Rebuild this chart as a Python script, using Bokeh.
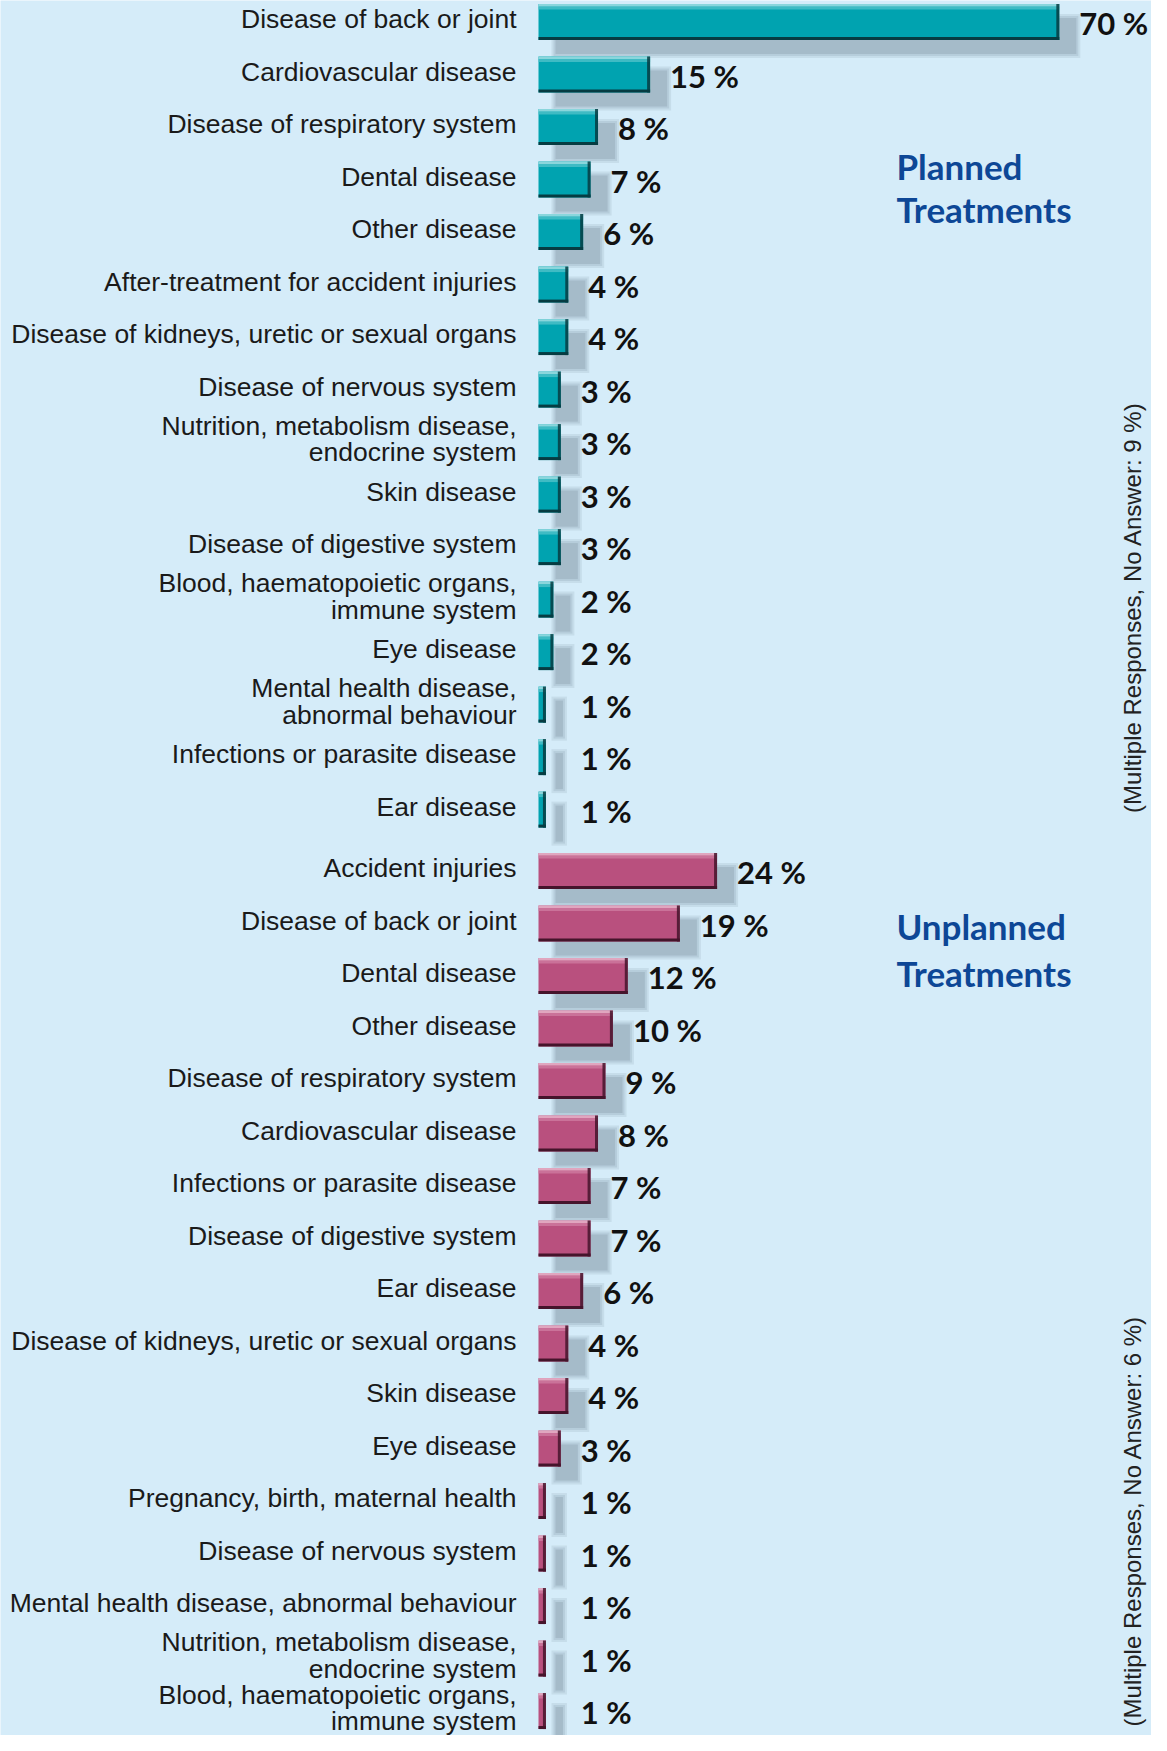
import numpy as np
from bokeh.plotting import figure
from bokeh.models import ColumnDataSource, Range1d, Label
from bokeh.embed import file_html
from bokeh.resources import INLINE
from bokeh.core.properties import value

# ---------------- data ----------------
planned_labels = [
    "Disease of back or joint",
    "Cardiovascular disease",
    "Disease of respiratory system",
    "Dental disease",
    "Other disease",
    "After-treatment for accident injuries",
    "Disease of kidneys, uretic or sexual organs",
    "Disease of nervous system",
    "Nutrition, metabolism disease,\nendocrine system",
    "Skin disease",
    "Disease of digestive system",
    "Blood, haematopoietic organs,\nimmune system",
    "Eye disease",
    "Mental health disease,\nabnormal behaviour",
    "Infections or parasite disease",
    "Ear disease",
]
planned_values = [70, 15, 8, 7, 6, 4, 4, 3, 3, 3, 3, 2, 2, 1, 1, 1]

unplanned_labels = [
    "Accident injuries",
    "Disease of back or joint",
    "Dental disease",
    "Other disease",
    "Disease of respiratory system",
    "Cardiovascular disease",
    "Infections or parasite disease",
    "Disease of digestive system",
    "Ear disease",
    "Disease of kidneys, uretic or sexual organs",
    "Skin disease",
    "Eye disease",
    "Pregnancy, birth, maternal health",
    "Disease of nervous system",
    "Mental health disease, abnormal behaviour",
    "Nutrition, metabolism disease,\nendocrine system",
    "Blood, haematopoietic organs,\nimmune system",
]
unplanned_values = [24, 19, 12, 10, 9, 8, 7, 7, 6, 4, 4, 3, 1, 1, 1, 1, 1]

section_titles = [["Planned", "Treatments"], ["Unplanned", "Treatments"]]
section_notes = ["(Multiple Responses, No Answer: 9 %)",
                 "(Multiple Responses, No Answer: 6 %)"]

# ---------------- style ----------------
BG = "#D5ECF9"
TEAL = dict(main="#00A3B0", light="#4FC0C9", lighter="#8AD6DC", dark="#063C42")
PINK = dict(main="#B9507E", light="#CE7BA0", lighter="#E0A6BF", dark="#45142B")
SHADOW = "#93AAB8"
TITLE_BLUE = "#0D4796"

W, H = 1151, 1735
X0, X1 = -72.31, 82.39
Y0, Y1 = -0.411, 32.636
PXX = W / (X1 - X0)
PXY = H / (Y1 - Y0)
BAR_H = 36 / PXY
UNPLANNED_START = 16.17

p = figure(width=W, height=H, x_range=Range1d(X0, X1), y_range=Range1d(Y1, Y0),
           output_backend="svg", toolbar_location=None, min_border=0,
           x_axis_location=None, y_axis_location=None)
p.grid.visible = False
p.outline_line_color = None
p.background_fill_color = BG
p.border_fill_color = BG

sections = [
    (planned_labels, planned_values, 0.0, TEAL),
    (unplanned_labels, unplanned_values, UNPLANNED_START, PINK),
]

dx = 17 / PXX
dy = 14 / PXY

for labels, vals, start, col in sections:
    v = np.array(vals, dtype=float)
    y = start + np.arange(len(v))
    src = ColumnDataSource(dict(
        y=y, v=v, lab=labels, txt=[f"{int(a)} %" for a in v],
        tx=np.maximum(v, 3.0),
    ))
    # soft shadow
    for grow, alpha in [(4, 0.22), (2, 0.3), (0, 0.5)]:
        gx = grow / PXX
        gy = grow / PXY
        p.hbar(y=y + dy, left=dx - gx, right=v + dx + gx, height=BAR_H + 2 * gy,
               fill_color=SHADOW, fill_alpha=alpha, line_color=None)
    # bar body
    p.hbar(y="y", left=0, right="v", height=BAR_H, source=src,
           fill_color=col["main"], line_color=None)
    # top highlights
    t1 = 2.5 / PXY
    t2 = 3.0 / PXY
    p.hbar(y=y - BAR_H / 2 + t1 + t2 / 2, left=0, right=v, height=t2,
           fill_color=col["light"], line_color=None, fill_alpha=0.8)
    p.hbar(y=y - BAR_H / 2 + t1 / 2, left=0, right=v, height=t1,
           fill_color=col["lighter"], line_color=None)
    # dark right edge and bottom edge
    rw = 3.0 / PXX
    p.hbar(y=y, left=np.maximum(v - rw, 0), right=v, height=BAR_H,
           fill_color=col["dark"], line_color=None, fill_alpha=0.85)
    b = 3.0 / PXY
    p.hbar(y=y + BAR_H / 2 - b / 2, left=0, right=v, height=b,
           fill_color=col["dark"], line_color=None)
    # category labels
    p.text(x=0, y="y", text="lab", source=src, x_offset=-22, y_offset=-3,
           text_align="right", text_baseline="middle",
           text_font=value("Liberation Sans"), text_font_size="26.5px",
           text_line_height=0.89, text_color="#1A1A1A")
    # value labels
    p.text(x="tx", y="y", text="txt", source=src, x_offset=20, y_offset=1,
           text_align="left", text_baseline="middle",
           text_font=value("Lato"), text_font_style="bold",
           text_font_size="31px", text_color="#111111")

# section titles
title_pos = [(2.737, 3.564), (17.226, 18.103)]
for (l1, l2), (ya, yb) in zip(section_titles, title_pos):
    for txt, yy in [(l1, ya), (l2, yb)]:
        p.add_layout(Label(x=48.1, y=yy, text=txt, text_font="Lato",
                           text_font_style="bold", text_font_size="35px",
                           text_color=TITLE_BLUE, text_baseline="alphabetic",
                           text_align="left"))

# rotated notes
note_pos = [11.15, 28.55]
for txt, yy in zip(section_notes, note_pos):
    p.add_layout(Label(x=79.9, y=yy, text=txt, angle=np.pi / 2,
                       text_font="Liberation Sans", text_font_size="24px",
                       text_color="#222222", text_align="center",
                       text_baseline="middle"))

open("out.html", "w").write(file_html(p, INLINE))
